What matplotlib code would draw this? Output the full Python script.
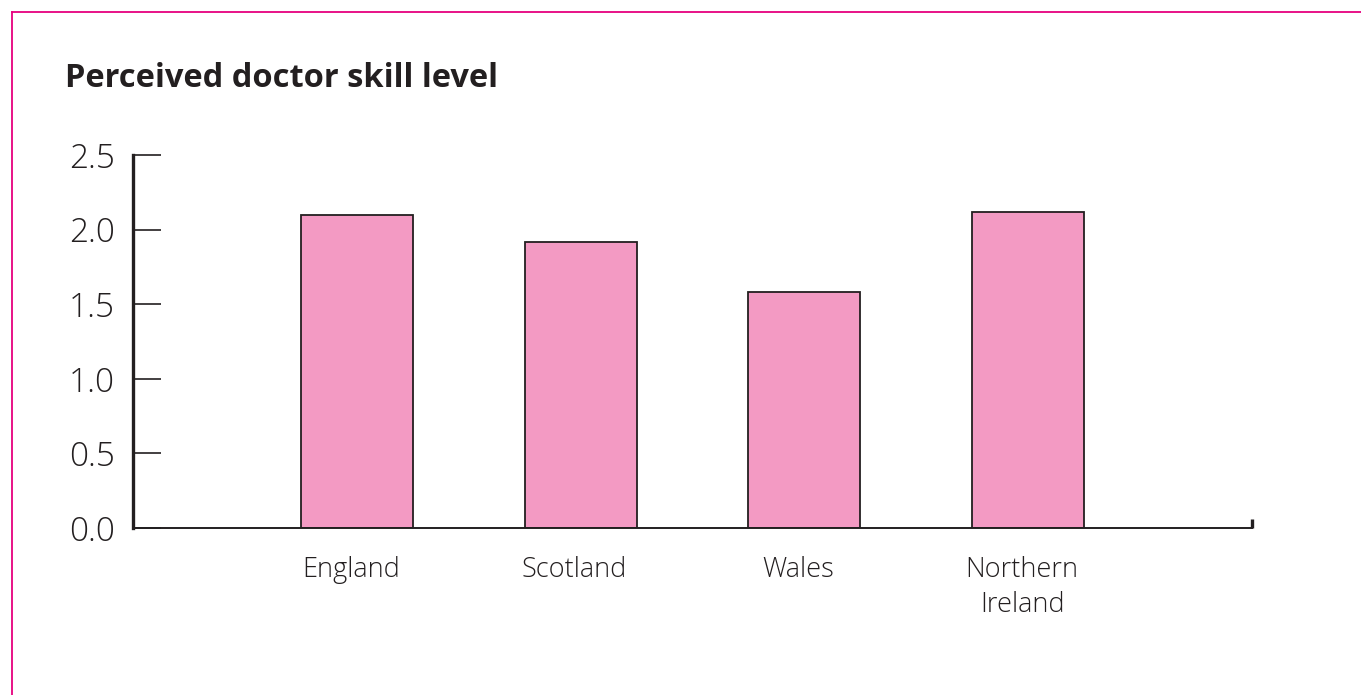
import matplotlib.pyplot as plt
import matplotlib.transforms as mtransforms
from matplotlib.lines import Line2D

plt.rcParams['font.family'] = ['Open Sans', 'DejaVu Sans']

# Mean perceived skill score by nation
nations = ['England', 'Scotland', 'Wales', 'Northern\nIreland']
skill = [2.10, 1.92, 1.58, 2.12]
yticks = [0.0, 0.5, 1.0, 1.5, 2.0, 2.5]

ink = '#231f20'
pink = '#f39ac3'
magenta = '#e6007e'

fig = plt.figure(figsize=(13.61, 6.95), dpi=100)
ax = fig.add_axes([133 / 1361, 1 - 528 / 695, (1252 - 133) / 1361, (528 - 155) / 695])

x = list(range(len(nations)))
ax.bar(x, skill, width=0.5, color=pink, edgecolor=ink, linewidth=1.3, zorder=2)

ax.set_xlim(-1, 4)
ax.set_ylim(0, 2.5)
ax.set_yticks(yticks)
ax.set_yticklabels([f'{v:.1f}' for v in yticks], fontsize=24, color=ink,
                   fontweight='light')
ax.set_xticks(x)
ax.set_xticklabels(nations, fontsize=19.5, color=ink, linespacing=1.35,
                   fontweight='light')

ax.tick_params(axis='y', direction='in', length=20, width=1.2, color=ink, pad=13)
ax.tick_params(axis='x', length=0, pad=20)

# category names sit a touch left of the bar centres
shift = mtransforms.ScaledTranslation(-6 / 100, 0, fig.dpi_scale_trans)
for lbl in ax.get_xticklabels():
    lbl.set_transform(lbl.get_transform() + shift)

for side in ['top', 'right']:
    ax.spines[side].set_visible(False)
ax.spines['left'].set_linewidth(2.4)
ax.spines['left'].set_color(ink)
ax.spines['bottom'].set_linewidth(1.4)
ax.spines['bottom'].set_color(ink)

# short end mark at the right of the baseline
ax.plot([4, 4], [0, 0.06], color=ink, linewidth=2.4, solid_capstyle='butt',
        clip_on=False, zorder=3)

fig.text(65 / 1361, 1 - 87 / 695, 'Perceived doctor skill level', fontsize=23.5,
         fontweight='bold', color=ink, ha='left', va='baseline')

# magenta frame along the top and left edges
fig.add_artist(Line2D([12 / 1361, 1], [1 - 12 / 695, 1 - 12 / 695],
                      transform=fig.transFigure, color=magenta, linewidth=1.3))
fig.add_artist(Line2D([12 / 1361, 12 / 1361], [0, 1 - 12 / 695],
                      transform=fig.transFigure, color=magenta, linewidth=1.3))

fig.savefig('out.png', dpi=100)
